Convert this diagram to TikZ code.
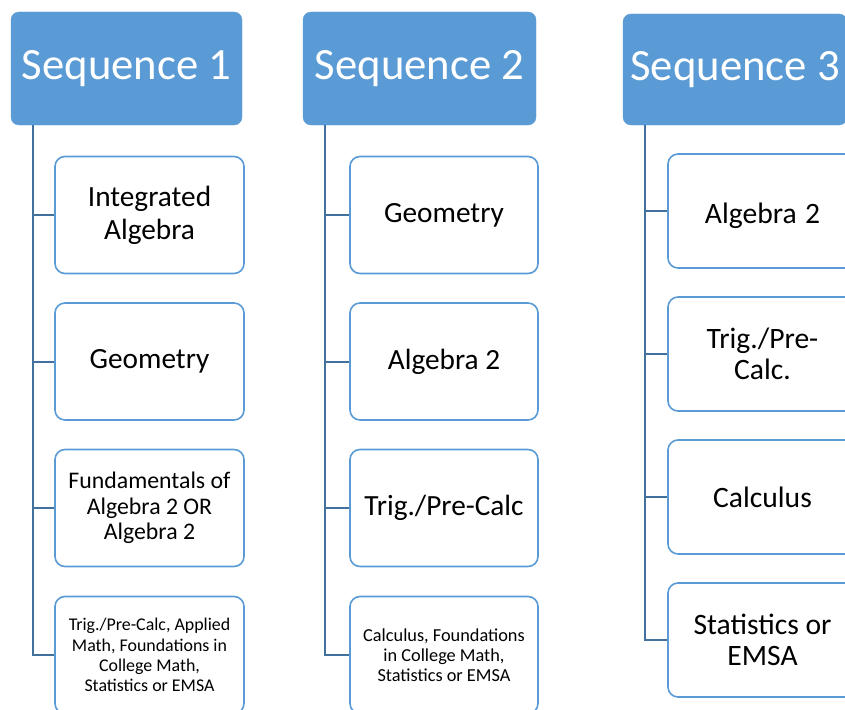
\documentclass[tikz,border=0pt]{standalone}
\usepackage{fontspec}
\setmainfont{Carlito}
\definecolor{headblue}{RGB}{91,155,213}
\definecolor{linkblue}{RGB}{65,113,156}
\tikzset{
  x=1pt, y=-1pt,
  head/.style={draw=headblue, fill=headblue, rounded corners=8pt, text=white,
    inner sep=0pt, align=center, font=\fontsize{44.7}{54}\selectfont},
  course/.style={draw=headblue, line width=1.6pt, fill=white, rounded corners=10pt,
    inner sep=0pt, align=center, text=black},
  big/.style={font=\fontsize{29.3}{33}\selectfont},
  mid/.style={font=\fontsize{23.8}{25.5}\selectfont},
  small/.style={font=\fontsize{17.9}{20.3}\selectfont},
  smallb/.style={font=\fontsize{18.3}{19.8}\selectfont},
  bigc/.style={font=\fontsize{29.6}{31.5}\selectfont},
  conn/.style={draw=linkblue, line width=2pt},
}
\begin{document}
\begin{tikzpicture}
\useasboundingbox (0,0) rectangle (845,709);
\clip (0,0) rectangle (845,709);

% column 1
\node[head, minimum width=231pt, minimum height=113pt] (h1) at (126.5,68.5) {Sequence 1};
\node[course, big, minimum width=189pt, minimum height=117pt] (a1) at (149.5,215) {Integrated\\Algebra};
\node[course, big, minimum width=189pt, minimum height=117pt] (a2) at (149.5,361.5) {Geometry};
\node[course, mid, minimum width=189pt, minimum height=117pt] (a3) at (149.5,508) {Fundamentals of\\Algebra 2 OR\\Algebra 2};
\node[course, small, minimum width=189pt, minimum height=117pt] (a4) at (149.5,655) {Trig./Pre-Calc, Applied\\Math, Foundations in\\College Math,\\Statistics or EMSA};
\coordinate (t1) at (32.5,125);
\draw[conn] (t1) |- (a4.west);
\foreach \n in {a1,a2,a3} \draw[conn] (\n.west) -- (\n.west -| t1);

% column 2
\node[head, minimum width=233pt, minimum height=113pt] (h2) at (419.5,68.5) {Sequence 2};
\node[course, big, minimum width=188pt, minimum height=117pt] (b1) at (444,215) {Geometry};
\node[course, big, minimum width=188pt, minimum height=117pt] (b2) at (444,361.5) {Algebra 2};
\node[course, big, minimum width=188pt, minimum height=117pt] (b3) at (444,508) {Trig./Pre-Calc};
\node[course, smallb, minimum width=188pt, minimum height=117pt] (b4) at (444,655) {Calculus, Foundations\\in College Math,\\Statistics or EMSA};
\coordinate (t2) at (325,125);
\draw[conn] (t2) |- (b4.west);
\foreach \n in {b1,b2,b3} \draw[conn] (\n.west) -- (\n.west -| t2);

% column 3
\node[head, minimum width=224pt, minimum height=111pt] (h3) at (735,69.5) {Sequence 3};
\node[course, bigc, minimum width=189pt, minimum height=114pt, text height=30pt, text depth=6pt] (c1) at (762.5,211) {Algebra\hspace{0.28em}2};
\node[course, bigc, minimum width=189pt, minimum height=114pt] (c2) at (762.5,354) {Trig./Pre-\\Calc.};
\node[course, bigc, minimum width=189pt, minimum height=114pt] (c3) at (762.5,497) {Calculus};
\node[course, bigc, minimum width=189pt, minimum height=114pt] (c4) at (762.5,640) {Statistics or\\EMSA};
\coordinate (t3) at (645,125);
\draw[conn] (t3) |- (c4.west);
\foreach \n in {c1,c2,c3} \draw[conn] (\n.west) -- (\n.west -| t3);
\end{tikzpicture}
\end{document}
